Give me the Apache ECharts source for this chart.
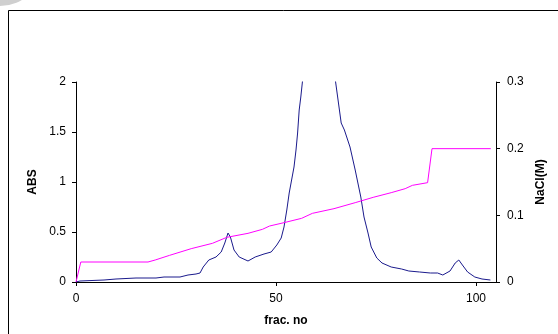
<!DOCTYPE html>
<html><head><meta charset="utf-8">
<script src="https://cdn.jsdelivr.net/npm/echarts@6/dist/echarts.min.js"></script>
<style>html,body{margin:0;padding:0;background:#fff}#c{width:558px;height:334px}</style>
</head><body><div id="c"></div>
<script>
// ABS (left axis) : fraction number, absorbance
const absX = [0,1,7,10,15,20,22,26,28,30,31,31.8,33.2,35,36.3,37.2,38,38.6,39.5,40.8,43,44.8,47,48.8,50.2,51.3,52,52.7,53.3,53.9,54.5,55,55.4,55.8,56.2,56.6,57.5,59,61,63,64.9,66.3,67.1,68.5,69.8,71.2,72,73,73.8,75.2,76.5,78.8,81.4,83.2,85.9,88.6,90.4,91.7,93.5,94.8,95.7,96.6,97.9,99.7,101.5,103.6];
const absY = [0,0.01,0.02,0.03,0.04,0.04,0.05,0.05,0.07,0.08,0.09,0.15,0.22,0.25,0.30,0.39,0.49,0.45,0.32,0.25,0.21,0.25,0.28,0.30,0.37,0.44,0.55,0.72,0.89,1.02,1.15,1.32,1.49,1.72,1.85,2.0,2.4,2.9,3.1,2.7,2.0,1.59,1.52,1.35,1.12,0.85,0.65,0.49,0.35,0.24,0.19,0.15,0.13,0.11,0.10,0.09,0.09,0.07,0.11,0.19,0.22,0.17,0.10,0.05,0.03,0.02];
// NaCl (right axis) : fraction number, molarity
const naclX = [0,1.2,18,19.8,23.4,28.8,34.1,37.7,43,46.6,48.4,52,56.4,59.1,64.5,69.8,74.3,78.8,82.3,84.1,87.9,89,103.7];
const naclY = [0,0.03,0.03,0.033,0.04,0.05,0.058,0.067,0.073,0.079,0.084,0.089,0.0955,0.103,0.11,0.119,0.127,0.134,0.14,0.145,0.149,0.2,0.2];
const xTicks = [0,50,100];
const absTicks = [0,0.5,1,1.5,2];
const naclTicks = [0,0.1,0.2,0.3];

const chart = echarts.init(document.getElementById('c'), null, {renderer:'canvas'});
const font = 'Liberation Sans, Arial, sans-serif';
const lab = {color:'#000', fontFamily:font, fontSize:12};
const nameSt = {color:'#000', fontFamily:font, fontSize:12, fontWeight:'bold'};
chart.setOption({
  animation:false,
  backgroundColor:'#fff',
  graphic:[
    {type:'circle', shape:{cx:0, cy:-37, r:43}, style:{fill:'#cfcfcf'}, silent:true},
    {type:'rect', shape:{x:8.5, y:10.5, width:700, height:500}, style:{fill:null, stroke:'#000', lineWidth:1}, silent:true}
  ],
  grid:{left:76, right:62, top:82, bottom:52},
  xAxis:{type:'value', min:0, max:105, interval:50,
    name:'frac. no', nameLocation:'middle', nameGap:33, nameTextStyle:nameSt,
    axisLine:{lineStyle:{color:'#000'}}, axisTick:{length:4, lineStyle:{color:'#000'}},
    axisLabel:Object.assign({margin:11, showMaxLabel:false, formatter:v=>xTicks.includes(v)?String(v):''}, lab),
    splitLine:{show:false}},
  yAxis:[
    {type:'value', min:0, max:2, interval:0.5,
     name:'ABS', nameLocation:'middle', nameGap:32, nameRotate:90, nameTextStyle:nameSt,
     axisLine:{show:true, lineStyle:{color:'#000'}}, axisTick:{show:true, length:4, lineStyle:{color:'#000'}},
     axisLabel:Object.assign({margin:10, formatter:v=>absTicks.includes(v)?String(v):''}, lab),
     splitLine:{show:false}},
    {type:'value', min:0, max:0.3, interval:0.1, position:'right',
     name:'NaCl(M)', nameLocation:'middle', nameGap:37, nameRotate:90, nameTextStyle:nameSt,
     axisLine:{show:true, lineStyle:{color:'#000'}}, axisTick:{show:true, length:4, lineStyle:{color:'#000'}},
     axisLabel:Object.assign({margin:11, formatter:v=>{const r=Math.round(v*10)/10; return naclTicks.includes(r)?String(r):'';}}, lab),
     splitLine:{show:false}}
  ],
  series:[
    {type:'line', yAxisIndex:0, data:absX.map((x,i)=>[x,absY[i]]), showSymbol:false, clip:true,
     lineStyle:{color:'#1a1a8c', width:1}},
    {type:'line', yAxisIndex:1, data:naclX.map((x,i)=>[x,naclY[i]]), showSymbol:false, clip:true,
     lineStyle:{color:'#ff00ff', width:1}}
  ]
});
</script></body></html>
